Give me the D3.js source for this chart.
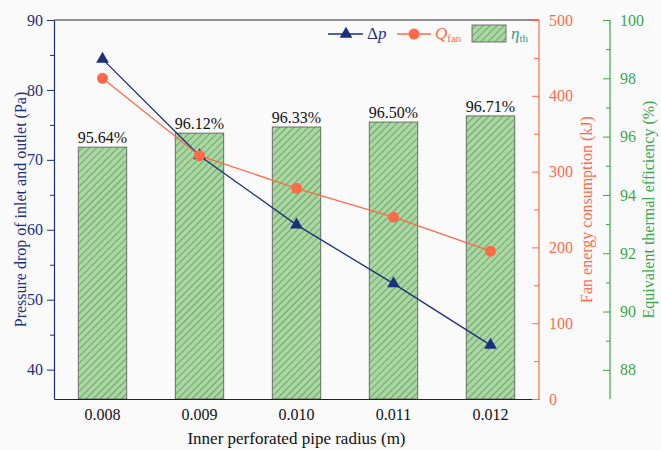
<!DOCTYPE html>
<html>
<head>
<meta charset="utf-8">
<script src="https://cdn.jsdelivr.net/npm/d3@7"></script>
<style>
  body { margin: 0; background: #fafafa; }
  text { font-family: "Liberation Serif", "Times New Roman", serif; }
</style>
</head>
<body>
<div id="chart"></div>
<script>
const radii = ["0.008", "0.009", "0.010", "0.011", "0.012"];
const pressureDrop = [84.4, 70.6, 60.7, 52.3, 43.5];
const fanEnergy = [423, 321, 278, 240, 195];
const efficiency = [95.64, 96.12, 96.33, 96.50, 96.71];

const width = 661, height = 450;
const margin = { top: 20, right: 122, bottom: 51, left: 54 };
const innerW = width - margin.left - margin.right;
const innerH = height - margin.top - margin.bottom;

const navy = "#1b2f7e";
const orange = "#ff6b4a";
const green = "#3aa64c";

const svg = d3.select("#chart").append("svg")
    .attr("width", width)
    .attr("height", height)
    .style("display", "block");

// hatch pattern for bars
const defs = svg.append("defs");
const pat = defs.append("pattern")
    .attr("id", "hatch")
    .attr("patternUnits", "userSpaceOnUse")
    .attr("width", 5)
    .attr("height", 5)
    .attr("patternTransform", "rotate(45)");
pat.append("rect").attr("width", 5).attr("height", 5).attr("fill", "#a8d8a0");
pat.append("line")
    .attr("x1", 0).attr("y1", 0).attr("x2", 0).attr("y2", 5)
    .attr("stroke", "#355e38").attr("stroke-width", 0.9);

const g = svg.append("g").attr("transform", `translate(${margin.left},${margin.top})`);

// Scales
const x = d3.scaleBand().domain(radii).range([0, innerW]).paddingInner(0.5).paddingOuter(0.25);
const yP = d3.scaleLinear().domain([35.8, 90]).range([innerH, 0]);
const yQ = d3.scaleLinear().domain([0, 500]).range([innerH, 0]);
const yE = d3.scaleLinear().domain([87, 100]).range([innerH, 0]);

// Bars
g.selectAll(".bar")
    .data(efficiency)
    .enter()
    .append("rect")
    .attr("class", "bar")
    .attr("x", (d, i) => x(radii[i]))
    .attr("width", x.bandwidth())
    .attr("y", d => yE(d))
    .attr("height", d => innerH - yE(d))
    .attr("fill", "url(#hatch)")
    .attr("stroke", "#555")
    .attr("stroke-width", 0.8);

g.selectAll(".bar-label")
    .data(efficiency)
    .enter()
    .append("text")
    .attr("class", "bar-label")
    .attr("x", (d, i) => x(radii[i]) + x.bandwidth() / 2)
    .attr("y", d => yE(d) - 4)
    .attr("text-anchor", "middle")
    .attr("font-size", "16px")
    .attr("fill", "#111")
    .text(d => d.toFixed(2) + "%");

// Lines
const cx = (d, i) => x(radii[i]) + x.bandwidth() / 2;

g.append("path")
    .datum(pressureDrop)
    .attr("fill", "none")
    .attr("stroke", navy)
    .attr("stroke-width", 1.3)
    .attr("d", d3.line().x(cx).y(d => yP(d)));

g.append("path")
    .datum(fanEnergy)
    .attr("fill", "none")
    .attr("stroke", orange)
    .attr("stroke-width", 1.3)
    .attr("d", d3.line().x(cx).y(d => yQ(d)));

const tri = d3.symbol().type(d3.symbolTriangle).size(70);
g.selectAll(".tri")
    .data(pressureDrop)
    .enter()
    .append("path")
    .attr("class", "tri")
    .attr("d", tri)
    .attr("transform", (d, i) => `translate(${cx(d, i)},${yP(d)})`)
    .attr("fill", navy);

g.selectAll(".dot")
    .data(fanEnergy)
    .enter()
    .append("circle")
    .attr("class", "dot")
    .attr("cx", cx)
    .attr("cy", d => yQ(d))
    .attr("r", 5.5)
    .attr("fill", orange);

// Frame: top line and bottom axis
g.append("line").attr("x1", 0).attr("x2", innerW).attr("y1", 0).attr("y2", 0)
    .attr("stroke", "#222").attr("stroke-width", 1.2);

const xAxis = g.append("g")
    .attr("transform", `translate(0,${innerH})`)
    .call(d3.axisBottom(x).tickSize(0).tickPadding(10));
xAxis.select(".domain").attr("stroke", "#222").attr("stroke-width", 1.2);
xAxis.selectAll("text").attr("font-size", "16px").attr("fill", "#111")
    .style("font-family", "Liberation Serif, serif");

// Left axis
function styleAxis(sel, color) {
    sel.select(".domain").attr("stroke", color).attr("stroke-width", 1.2);
    sel.selectAll("line").attr("stroke", color);
    sel.selectAll("text").attr("fill", color).attr("font-size", "16px")
        .style("font-family", "Liberation Serif, serif");
}

const leftMinor = g.append("g")
    .call(d3.axisLeft(yP).tickValues(d3.range(45, 90, 10)).tickSize(4).tickFormat(""));
leftMinor.select(".domain").remove();
leftMinor.selectAll("line").attr("stroke", navy);

const leftAxis = g.append("g")
    .call(d3.axisLeft(yP).tickValues(d3.range(40, 91, 10)).tickSize(7).tickSizeOuter(0).tickPadding(4));
styleAxis(leftAxis, navy);

// Orange axis (ticks inward)
const qAxisG = g.append("g").attr("transform", `translate(${innerW},0)`);
const qMinor = qAxisG.append("g")
    .call(d3.axisLeft(yQ).tickValues(d3.range(50, 500, 100)).tickSize(5).tickFormat(""));
qMinor.select(".domain").remove();
qMinor.selectAll("line").attr("stroke", orange);
const qAxis = qAxisG.append("g")
    .call(d3.axisRight(yQ).tickValues(d3.range(0, 501, 100)).tickSize(-7).tickSizeOuter(0).tickPadding(10));
styleAxis(qAxis, orange);
qAxis.select(".domain").attr("d", `M0,${innerH}H0V0H0`);

// Green axis (ticks to the left)
const eX = innerW + 71;
const eAxisG = g.append("g").attr("transform", `translate(${eX},0)`);
const eMinor = eAxisG.append("g")
    .call(d3.axisLeft(yE).tickValues(d3.range(89, 100, 2)).tickSize(4).tickFormat(""));
eMinor.select(".domain").remove();
eMinor.selectAll("line").attr("stroke", green);
const eAxis = eAxisG.append("g")
    .call(d3.axisRight(yE).tickValues(d3.range(88, 101, 2)).tickSize(-7).tickSizeOuter(0).tickPadding(10));
styleAxis(eAxis, green);
eAxis.select(".domain").attr("d", `M0,${innerH}H0V0H0`);

// Axis titles
svg.append("text")
    .attr("transform", `translate(22,${margin.top + innerH / 2}) rotate(-90)`)
    .attr("text-anchor", "middle")
    .attr("dominant-baseline", "middle")
    .attr("font-size", "16px")
    .attr("fill", navy)
    .text("Pressure drop of inlet and outlet (Pa)");

svg.append("text")
    .attr("transform", `translate(${margin.left + innerW + 49},${margin.top + innerH / 2}) rotate(-90)`)
    .attr("text-anchor", "middle")
    .attr("dominant-baseline", "middle")
    .attr("font-size", "16px")
    .attr("fill", orange)
    .text("Fan energy consumption (kJ)");

svg.append("text")
    .attr("transform", `translate(${margin.left + eX + 40},${margin.top + innerH / 2}) rotate(-90)`)
    .attr("text-anchor", "middle")
    .attr("dominant-baseline", "middle")
    .attr("font-size", "16px")
    .attr("fill", green)
    .text("Equivalent thermal efficiency (%)");

svg.append("text")
    .attr("x", margin.left + innerW / 2)
    .attr("y", 444)
    .attr("text-anchor", "middle")
    .attr("font-size", "17px")
    .attr("fill", "#111")
    .text("Inner perforated pipe radius (m)");

// Legend
const lg = svg.append("g").attr("transform", "translate(0,34)");
lg.append("line").attr("x1", 328).attr("x2", 363).attr("y1", 0).attr("y2", 0)
    .attr("stroke", navy).attr("stroke-width", 1.3);
lg.append("path").attr("d", tri).attr("transform", "translate(346,0)").attr("fill", navy);
const t1 = lg.append("text").attr("x", 367).attr("y", 5).attr("font-size", "17px").attr("fill", navy);
t1.append("tspan").text("Δ");
t1.append("tspan").attr("font-style", "italic").text("p");

lg.append("line").attr("x1", 397).attr("x2", 431).attr("y1", 0).attr("y2", 0)
    .attr("stroke", orange).attr("stroke-width", 1.3);
lg.append("circle").attr("cx", 414).attr("cy", 0).attr("r", 5.5).attr("fill", orange);
const t2 = lg.append("text").attr("x", 435).attr("y", 5).attr("font-size", "17px").attr("fill", orange);
t2.append("tspan").attr("font-style", "italic").text("Q");
t2.append("tspan").attr("font-size", "11px").attr("dy", 3).text("fan");

lg.append("rect").attr("x", 472).attr("y", -9).attr("width", 34).attr("height", 17)
    .attr("fill", "url(#hatch)").attr("stroke", "#555").attr("stroke-width", 0.8);
const t3 = lg.append("text").attr("x", 511).attr("y", 5).attr("font-size", "17px").attr("fill", "#2a9d8a");
t3.append("tspan").attr("font-style", "italic").text("η");
t3.append("tspan").attr("font-size", "11px").attr("dy", 3).text("th");
</script>
</body>
</html>
